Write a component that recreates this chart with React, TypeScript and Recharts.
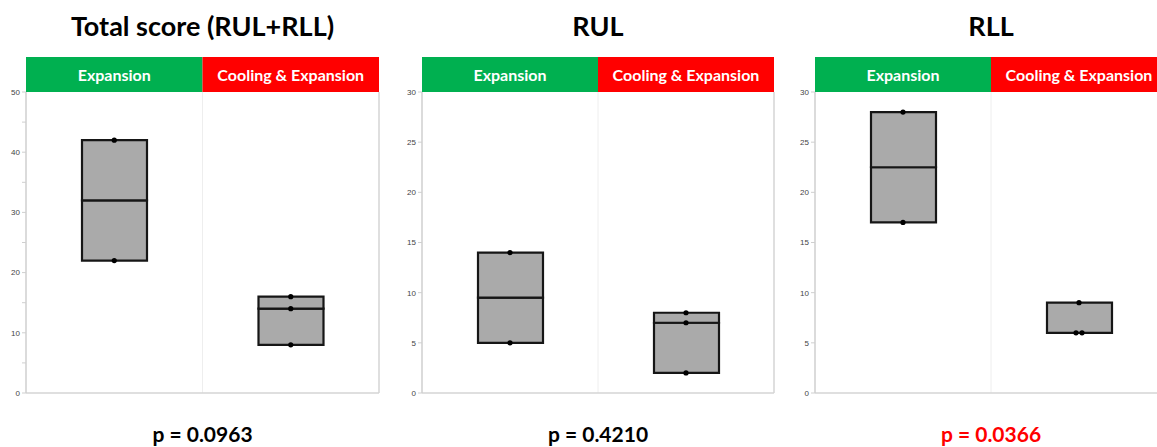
import React from "react";
import { Bar, CartesianGrid, ComposedChart, Line, XAxis, YAxis } from "recharts";

const categories = ["Expansion", "Cooling & Expansion"];
const headerColors = ["#00b050", "#ff0000"];

// raw points per group
const totalExpansion = [42, 22];
const totalCooling = [16, 14, 8];
const rulExpansion = [14, 5];
const rulCooling = [8, 7, 2];
const rllExpansion = [28, 17];
const rllCooling = [9, 6, 6];

const totalTicks = [0, 5, 10, 15, 20, 25, 30, 35, 40, 45, 50];
const segTicks = [0, 5, 10, 15, 20, 25, 30];

const MARGIN_TOP = 7;
const MARGIN_BOTTOM = 8;
const HEADER_H = 35;
const Y_AXIS_W = 30;
const CHART_TOP = 50;
const CHART_H = 343 + MARGIN_BOTTOM;

const median = (arr: number[]) => {
  const s = [...arr].sort((a, b) => a - b);
  const m = Math.floor(s.length / 2);
  return s.length % 2 ? s[m] : (s[m - 1] + s[m]) / 2;
};

const buildRows = (groups: number[][]) =>
  groups.map((pts, i) => {
    const lo = Math.min(...pts);
    const hi = Math.max(...pts);
    const med = median(pts);
    const row: any = { cat: categories[i], base: lo, lower: med - lo, upper: hi - med };
    const seen: Record<number, number> = {};
    pts.forEach((v, k) => {
      row[`p${k}`] = v;
      const dupes = pts.filter((x) => x === v).length;
      const n = seen[v] || 0;
      seen[v] = n + 1;
      row[`j${k}`] = dupes > 1 ? (n === 0 ? -3 : 3) : 0;
    });
    return row;
  });

const panels = [
  {
    title: "Total score (RUL+RLL)",
    rows: buildRows([totalExpansion, totalCooling]),
    yMax: 50,
    ticks: totalTicks,
    labelStep: 10,
    axisX: 26,
    plotW: 353,
    p: "p = 0.0963",
    pColor: "#000",
  },
  {
    title: "RUL",
    rows: buildRows([rulExpansion, rulCooling]),
    yMax: 30,
    ticks: segTicks,
    labelStep: 5,
    axisX: 422,
    plotW: 352,
    p: "p = 0.4210",
    pColor: "#000",
  },
  {
    title: "RLL",
    rows: buildRows([rllExpansion, rllCooling]),
    yMax: 30,
    ticks: segTicks,
    labelStep: 5,
    axisX: 815,
    plotW: 352,
    p: "p = 0.0366",
    pColor: "#ff0000",
  },
];

const HeaderTick = (props: any) => {
  const { x, payload, index, band } = props;
  return (
    <g>
      <rect x={x - band / 2} y={MARGIN_TOP} width={band} height={HEADER_H} fill={headerColors[index]} />
      <text
        x={x}
        y={MARGIN_TOP + HEADER_H / 2}
        textAnchor="middle"
        dominantBaseline="central"
        fill="#fff"
        fontFamily="Lato, sans-serif"
        fontWeight={700}
        fontSize={16}
      >
        {payload.value}
      </text>
    </g>
  );
};

const makeDot = (k: number) => (props: any) => {
  const { cx, cy, payload, index } = props;
  if (payload == null || payload[`p${k}`] == null || cy == null) return <g key={`d${k}-${index}`} />;
  return <circle key={`d${k}-${index}`} cx={cx + payload[`j${k}`]} cy={cy} r={2.6} fill="#000" />;
};

function Panel({ cfg }: { cfg: (typeof panels)[number] }) {
  const width = Y_AXIS_W + cfg.plotW + 2;
  return (
    <div style={{ position: "absolute", left: cfg.axisX - Y_AXIS_W, top: CHART_TOP }}>
      <ComposedChart
        width={width}
        height={CHART_H}
        data={cfg.rows}
        margin={{ top: MARGIN_TOP, right: 2, bottom: MARGIN_BOTTOM, left: 0 }}
        barSize={65}
      >
        <CartesianGrid
          stroke="#eeeeee"
          horizontal={false}
          verticalCoordinatesGenerator={({ offset }: any) => [offset.left + offset.width / 2]}
        />
        <CartesianGrid
          stroke="#d4d4d4"
          strokeWidth={1.5}
          horizontalCoordinatesGenerator={({ offset }: any) => [offset.top + offset.height]}
          verticalCoordinatesGenerator={({ offset }: any) => [offset.left + offset.width]}
        />
        <XAxis
          dataKey="cat"
          orientation="top"
          height={HEADER_H}
          axisLine={false}
          tickLine={false}
          interval={0}
          tick={<HeaderTick band={cfg.plotW / 2} />}
        />
        <YAxis
          type="number"
          domain={[0, cfg.yMax]}
          ticks={cfg.ticks}
          interval={0}
          width={Y_AXIS_W}
          tickFormatter={(v: number) => (v % cfg.labelStep === 0 ? String(v) : "")}
          tick={{ fontSize: 8, fill: "#444", fontFamily: "Liberation Sans, Arial, sans-serif" }}
          tickSize={4}
          tickMargin={2}
          axisLine={{ stroke: "#cfcfcf", strokeWidth: 1.5 }}
          tickLine={{ stroke: "#cfcfcf" }}
        />
        <Bar dataKey="base" stackId="box" fill="transparent" isAnimationActive={false} />
        <Bar dataKey="lower" stackId="box" fill="#aaaaaa" stroke="#161616" strokeWidth={2.2} isAnimationActive={false} />
        <Bar dataKey="upper" stackId="box" fill="#aaaaaa" stroke="#161616" strokeWidth={2.2} isAnimationActive={false} />
        {[0, 1, 2].map((k) => (
          <Line
            key={k}
            dataKey={`p${k}`}
            stroke="none"
            dot={makeDot(k)}
            activeDot={false}
            isAnimationActive={false}
            legendType="none"
          />
        ))}
      </ComposedChart>
    </div>
  );
}

export default function App() {
  return (
    <div
      style={{
        position: "absolute",
        left: 0,
        top: 0,
        width: 1157,
        height: 447,
        overflow: "hidden",
        background: "#fff",
        fontFamily: "Lato, sans-serif",
      }}
    >
      {panels.map((cfg) => (
        <React.Fragment key={cfg.title}>
          <div
            style={{
              position: "absolute",
              left: cfg.axisX,
              width: cfg.plotW,
              top: 9,
              textAlign: "center",
              fontWeight: 700,
              fontSize: 27,
              lineHeight: "34px",
              color: "#000",
            }}
          >
            {cfg.title}
          </div>
          <Panel cfg={cfg} />
          <div
            style={{
              position: "absolute",
              left: cfg.axisX,
              width: cfg.plotW,
              top: 421,
              textAlign: "center",
              fontWeight: 700,
              fontSize: 21,
              lineHeight: "26px",
              color: cfg.pColor,
            }}
          >
            {cfg.p}
          </div>
        </React.Fragment>
      ))}
    </div>
  );
}
